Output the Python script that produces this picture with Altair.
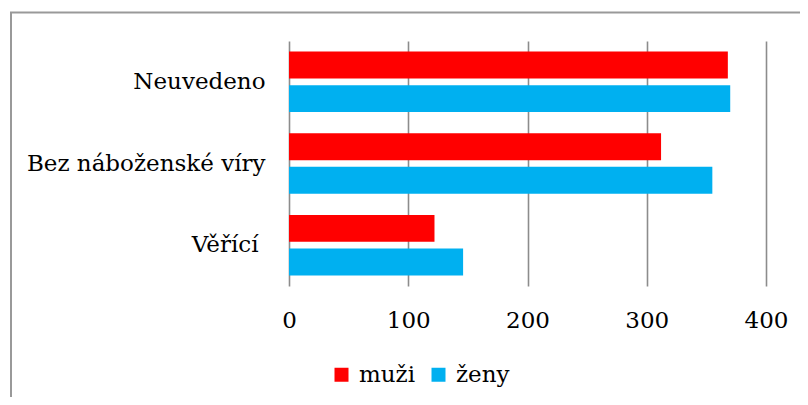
import altair as alt
import pandas as pd

categories = ["Neuvedeno", "Bez náboženské víry", "Věřící"]
series = ["muži", "ženy"]
muzi = [368, 312, 122]
zeny = [370, 355, 146]
x_ticks = [0, 100, 200, 300, 400]
colors = ["#FF0000", "#00B0F0"]

rows = []
for c, m, z in zip(categories, muzi, zeny):
    rows.append({"kategorie": c, "pohlavi": series[0], "pocet": m})
    rows.append({"kategorie": c, "pohlavi": series[1], "pocet": z})
df = pd.DataFrame(rows)

FONT = "DejaVu Serif"
FS = 23

bars = alt.Chart(df).mark_bar().encode(
    x=alt.X(
        "pocet:Q",
        scale=alt.Scale(domain=[0, 400], nice=False),
        axis=alt.Axis(
            values=x_ticks, title=None, grid=True, gridColor="#8c8c8c", gridWidth=1.6,
            domain=False, ticks=False, labelFont=FONT, labelFontSize=FS,
            labelColor="black", labelPadding=23, labelFlush=False,
        ),
    ),
    y=alt.Y(
        "kategorie:N", sort=categories,
        scale=alt.Scale(paddingInner=0, paddingOuter=0),
        axis=alt.Axis(
            title=None, domain=False, ticks=False, labelFont=FONT, labelFontSize=FS,
            labelColor="black", labelLimit=400,
            labelPadding={"condition": {"test": "datum.value === 'Věřící'", "value": 31},
                          "value": 24},
        ),
    ),
    yOffset=alt.YOffset("pohlavi:N", sort=series,
                        scale=alt.Scale(paddingInner=0.2, paddingOuter=0.316)),
    color=alt.Color(
        "pohlavi:N",
        scale=alt.Scale(domain=series, range=colors),
        legend=alt.Legend(
            orient="none", legendX=41, legendY=322, direction="horizontal",
            title=None, symbolType="square", symbolSize=196, symbolStrokeWidth=0,
            labelFont=FONT, labelFontSize=FS, labelColor="black",
            labelOffset=6, columnPadding=11, padding=0,
        ),
    ),
)

frame_df = pd.DataFrame({"a": [0]})
left_line = alt.Chart(frame_df).mark_rule(color="#999999", strokeWidth=2, clip=False).encode(
    x=alt.value(-278), y=alt.value(-29), y2=alt.value(370)
)
top_line = alt.Chart(frame_df).mark_rule(color="#999999", strokeWidth=2, clip=False).encode(
    x=alt.value(-279), x2=alt.value(530), y=alt.value(-28.5)
)

chart = alt.layer(bars, left_line, top_line).properties(
    width=477, height=245,
    padding={"left": 281, "top": 33, "right": 34, "bottom": 111},
    autosize=alt.AutoSizeParams(type="none"),
).configure_view(stroke=None)

chart.save("out.html", embed_options={"renderer": "svg", "actions": False})
